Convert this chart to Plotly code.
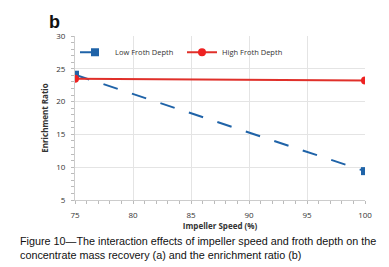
import plotly.graph_objects as go

speed = [75, 100]
low_froth = [24.1, 9.4]
high_froth = [23.5, 23.2]
x_ticks = [75, 80, 85, 90, 95, 100]
y_ticks = [5, 10, 15, 20, 25, 30]

fig = go.Figure()
fig.add_trace(go.Scatter(
    x=speed, y=low_froth, name="Low Froth Depth", mode="lines+markers",
    line=dict(color="#1f63a8", width=2, dash="longdash"),
    marker=dict(symbol="square", size=8, color="#1f63a8"),
))
fig.add_trace(go.Scatter(
    x=speed, y=high_froth, name="High Froth Depth", mode="lines+markers",
    line=dict(color="#e0302a", width=2),
    marker=dict(symbol="circle", size=8, color="#ee2222"),
))

tickfont = dict(family="Open Sans", size=8, color="#333333")
fig.update_layout(
    width=389, height=267,
    margin=dict(l=67, r=32, t=28, b=75),
    paper_bgcolor="white", plot_bgcolor="white",
    showlegend=True,
    legend=dict(orientation="h", x=0.0, y=0.99, xanchor="left", yanchor="top",
                font=dict(family="Open Sans", size=7.5, color="#333333"),
                bgcolor="rgba(0,0,0,0)", itemwidth=30, entrywidth=62, entrywidthmode="pixels"),
    xaxis=dict(range=[75, 100], tickvals=x_ticks, tickfont=tickfont,
               showgrid=True, gridcolor="#e4e4e4", gridwidth=1,
               showline=True, linecolor="#cccccc", zeroline=False,
               ticks="outside", ticklen=3, tickcolor="#bbbbbb", ticklabelstandoff=4,
               minor=dict(ticks="outside", dtick=1, ticklen=3, tickcolor="#bbbbbb", showgrid=False),
               title=dict(text="<b>Impeller Speed (%)</b>", font=dict(family="Open Sans", size=8, color="#333333"), standoff=4)),
    yaxis=dict(range=[5, 30], tickvals=y_ticks, tickfont=tickfont,
               showgrid=True, gridcolor="#e4e4e4", gridwidth=1,
               showline=True, linecolor="#cccccc", zeroline=False,
               ticks="outside", ticklen=3, tickcolor="#bbbbbb", ticklabelstandoff=4,
               minor=dict(ticks="outside", dtick=1, ticklen=3, tickcolor="#bbbbbb", showgrid=False),
               title=dict(text="<b>Enrichment Ratio</b>", font=dict(family="Open Sans", size=8, color="#333333"), standoff=6)),
)
fig.update_xaxes(tickprefix="<b>", ticksuffix="</b>")
fig.update_yaxes(tickprefix="<b>", ticksuffix="</b>")

fig.add_annotation(text="<b>b</b>", xref="paper", yref="paper", x=-0.095, y=1.0, xanchor="left", yanchor="bottom",
                   yshift=2, showarrow=False, font=dict(family="Liberation Sans", size=18, color="#111111"))
fig.add_annotation(text="Figure 10\u2014The interaction effects of impeller speed and froth depth on the<br>concentrate mass recovery (a) and the enrichment ratio (b)",
                   xref="paper", yref="paper", x=-0.197, y=-0.20, xanchor="left", yanchor="top", align="left",
                   showarrow=False, font=dict(family="Liberation Sans", size=10.8, color="#111111"))

fig.write_html("out.html")
